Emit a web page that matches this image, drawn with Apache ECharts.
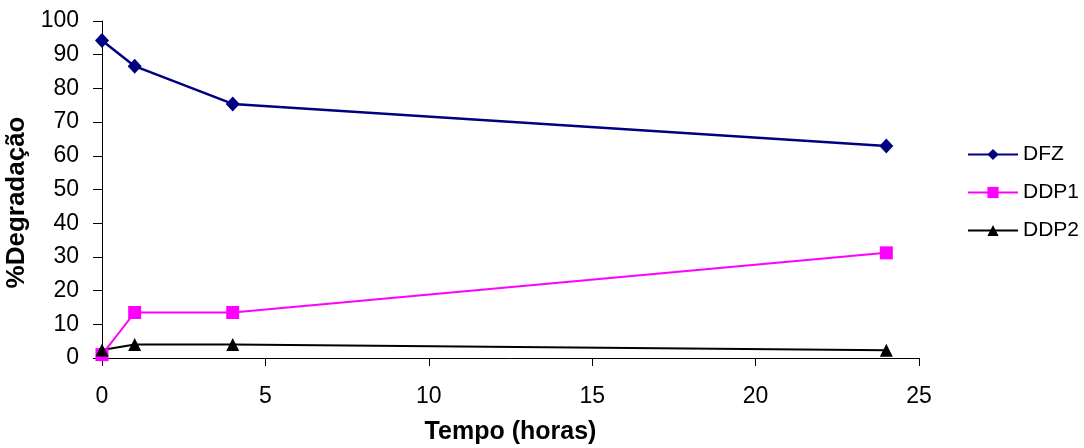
<!DOCTYPE html>
<html>
<head>
<meta charset="utf-8">
<script src="https://cdn.jsdelivr.net/npm/echarts@6/dist/echarts.min.js"></script>
<style>
html,body{margin:0;padding:0;background:#fff;}
#chart{width:1084px;height:448px;}
</style>
</head>
<body>
<div id="chart"></div>
<script>
// Sampling times (hours)
const hours = [0, 1, 4, 24];
// Percentage of each species at each time
const dfz  = [94.2, 86.6, 75.4, 62.9];
const ddp1 = [1.0, 13.5, 13.5, 31.2];
const ddp2 = [2.4, 4.0, 4.0, 2.3];
// Axis tick steps
const xTickStep = 5;
const yTickStep = 10;

const pairs = vals => hours.map((h, i) => [h, vals[i]]);
const font = 'Liberation Sans, Arial, sans-serif';

const chart = echarts.init(document.getElementById('chart'));
chart.setOption({
  animation: false,
  backgroundColor: '#fff',
  grid: { left: 102, right: 165, top: 21, bottom: 90, containLabel: false, outerBoundsMode: 'none' },
  xAxis: {
    type: 'value', min: 0, max: 25, interval: xTickStep,
    name: 'Tempo (horas)', nameLocation: 'middle', nameGap: 62,
    nameTextStyle: { fontFamily: font, fontSize: 25, fontWeight: 'bold', color: '#000' },
    axisLine: { lineStyle: { color: '#000', width: 1 } },
    axisTick: { length: 8, lineStyle: { color: '#000' } },
    axisLabel: { fontFamily: font, fontSize: 23, color: '#000', margin: 27 },
    splitLine: { show: false }
  },
  yAxis: {
    type: 'value', min: 0, max: 100, interval: yTickStep,
    name: '%Degradação', nameLocation: 'middle', nameGap: 68,
    nameTextStyle: { fontFamily: font, fontSize: 26, fontWeight: 'bold', color: '#000', padding: [0, 26, 0, 0] },
    axisLine: { show: true, lineStyle: { color: '#000', width: 1 } },
    axisTick: { show: true, length: 9, lineStyle: { color: '#000' } },
    axisLabel: { fontFamily: font, fontSize: 23, color: '#000', margin: 23 },
    splitLine: { show: false }
  },
  legend: {
    orient: 'vertical', left: 962, top: 139, itemWidth: 50, itemHeight: 14, itemGap: 17,
    textStyle: { fontFamily: font, fontSize: 21, color: '#000' },
    data: ['DFZ', 'DDP1', 'DDP2']
  },
  series: [
    { name: 'DFZ', type: 'line', data: pairs(dfz), symbol: 'diamond', symbolSize: [14, 15],
      lineStyle: { color: '#000080', width: 2.5 }, itemStyle: { color: '#000080' } },
    { name: 'DDP1', type: 'line', data: pairs(ddp1), symbol: 'rect', symbolSize: 13,
      lineStyle: { color: '#FF00FF', width: 2 }, itemStyle: { color: '#FF00FF' } },
    { name: 'DDP2', type: 'line', data: pairs(ddp2), symbol: 'triangle', symbolSize: 13,
      lineStyle: { color: '#000', width: 2 }, itemStyle: { color: '#000' } }
  ]
});
</script>
</body>
</html>
